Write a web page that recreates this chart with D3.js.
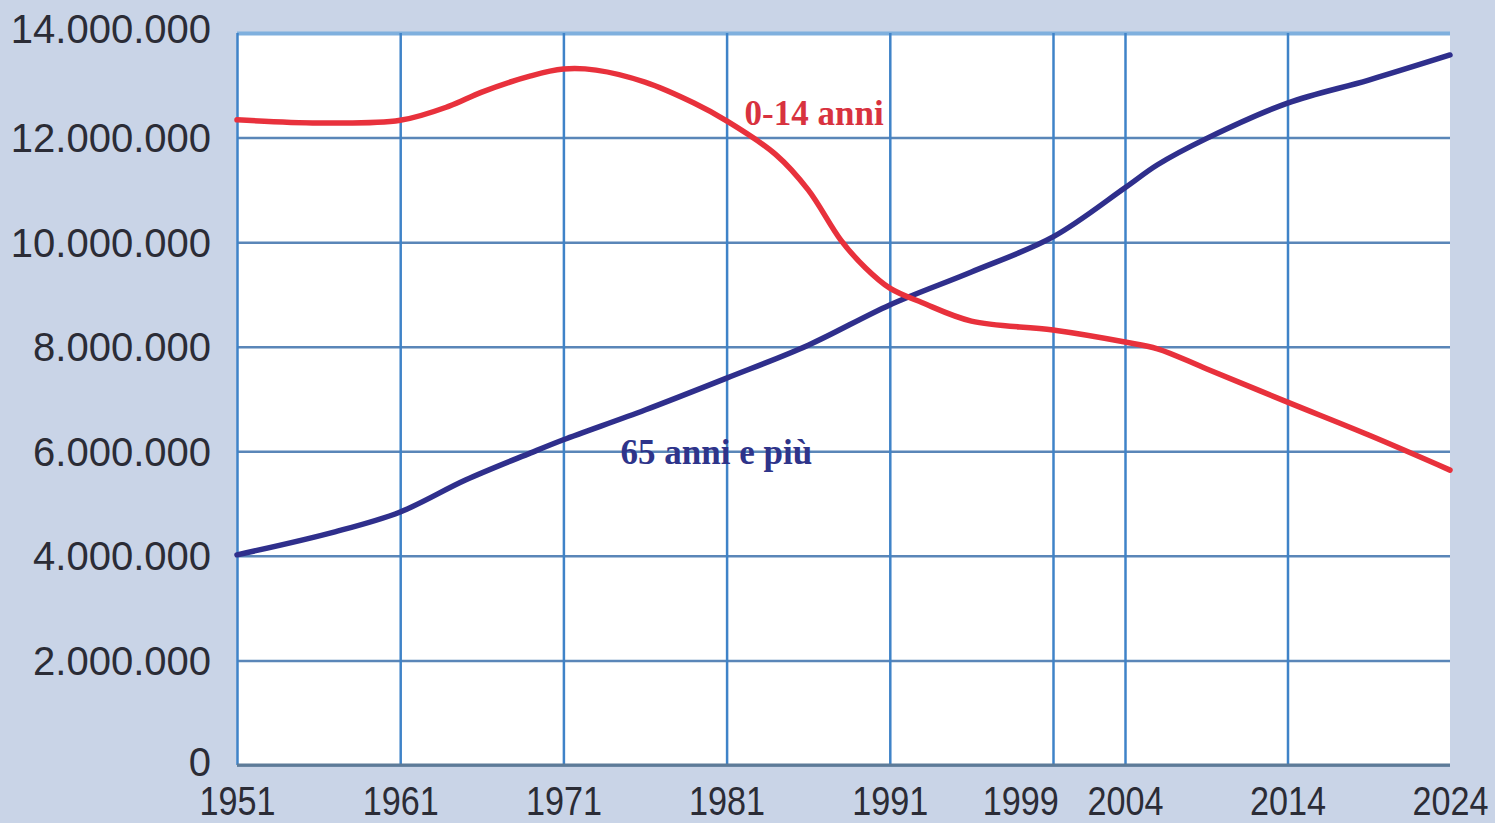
<!DOCTYPE html>
<html>
<head>
<meta charset="utf-8">
<script src="https://cdn.jsdelivr.net/npm/d3@7"></script>
<style>
  html, body { margin: 0; padding: 0; background: #c9d4e7; }
  svg { display: block; }
</style>
</head>
<body>
<svg id="chart" width="1495" height="823"></svg>
<script>
// ---- data ----
const years014 = [1951, 1956, 1961, 1964, 1966, 1969, 1971, 1973, 1976, 1979, 1981, 1984, 1986, 1988, 1989.5, 1991, 1993, 1996, 2001, 2004, 2006, 2009, 2014, 2019, 2024];
const values014 = [12.34e6, 12.28e6, 12.33e6, 12.60e6, 12.87e6, 13.18e6, 13.31e6, 13.29e6, 13.06e6, 12.66e6, 12.32e6, 11.68e6, 11.00e6, 10.04e6, 9.51e6, 9.12e6, 8.84e6, 8.49e6, 8.32e6, 8.09e6, 7.96e6, 7.58e6, 6.94e6, 6.31e6, 5.64e6];

const years65 = [1951, 1957, 1961, 1965, 1969, 1971, 1976, 1981, 1986, 1991, 1996, 2001, 2004, 2006, 2009, 2014, 2019, 2024];
const values65 = [4.02e6, 4.46e6, 4.84e6, 5.45e6, 5.97e6, 6.22e6, 6.79e6, 7.40e6, 8.03e6, 8.80e6, 9.43e6, 10.10e6, 11.04e6, 11.48e6, 11.98e6, 12.66e6, 13.10e6, 13.58e6];

const gridYears = [1951, 1961, 1971, 1981, 1991, 2001, 2004, 2014, 2024];
const xTickLabels = [1951, 1961, 1971, 1981, 1991, 1999, 2004, 2014, 2024];
const yTicks = [0, 2e6, 4e6, 6e6, 8e6, 10e6, 12e6, 14e6];

const seriesNames = ["0-14 anni", "65 anni e più"];
const labelYears = [1982.1, 1974.5];
const labelValues = [12.24e6, 5.76e6];

// ---- layout ----
const pLeft = 237, pRight = 1450, pTop = 33, pBottom = 765;
const svg = d3.select("#chart");
svg.append("rect").attr("width", 1495).attr("height", 823).attr("fill", "#c9d4e7");

const x = d3.scaleLinear().domain([1951, 2001, 2004, 2024]).range([pLeft, 1053, 1125, pRight]);
const y = d3.scaleLinear().domain([0, 14e6]).range([pBottom, pTop]);

const loc = d3.formatLocale({ decimal: ",", thousands: ".", grouping: [3], currency: ["", ""] });
const fmt = loc.format(",");

// plot background
svg.append("rect").attr("x", pLeft).attr("y", pTop).attr("width", pRight - pLeft).attr("height", pBottom - pTop).attr("fill", "#ffffff");

// horizontal grid
const gy = svg.append("g").attr("transform", `translate(${pLeft},0)`)
  .call(d3.axisLeft(y).tickValues(yTicks).tickSize(-(pRight - pLeft)).tickFormat(""));
gy.select(".domain").remove();
gy.selectAll(".tick line")
  .attr("stroke", d => d === 14e6 ? "#7fb0de" : (d === 0 ? "#5d7b98" : "#5a86b8"))
  .attr("stroke-width", d => d === 14e6 ? 4 : 2.5);

// vertical grid
const gx = svg.append("g").attr("transform", `translate(0,${pBottom})`)
  .call(d3.axisBottom(x).tickValues(gridYears).tickSize(-(pBottom - pTop)).tickFormat(""));
gx.select(".domain").remove();
gx.selectAll(".tick line")
  .attr("stroke", d => d === 2024 ? "none" : "#3f83c8")
  .attr("stroke-width", 2.5);

// bottom axis line
svg.append("line").attr("x1", pLeft).attr("x2", pRight).attr("y1", y(0)).attr("y2", y(0))
  .attr("stroke", "#5d7b98").attr("stroke-width", 3);

// y labels
const yl = svg.append("g").attr("transform", `translate(211,0)`)
  .call(d3.axisLeft(y).tickValues(yTicks).tickSize(0).tickPadding(0).tickFormat(fmt));
yl.select(".domain").remove();
yl.selectAll("text")
  .attr("font-family", "'Liberation Sans', Arial, sans-serif")
  .attr("font-size", 40).attr("fill", "#2b2c36")
  .attr("dy", "0.35em")
  .attr("y", d => d === 14e6 ? -5 : (d === 0 ? -4 : 0));

// x labels
const xl = svg.append("g").attr("transform", `translate(0,${pBottom})`)
  .call(d3.axisBottom(x).tickValues(xTickLabels).tickSize(0).tickPadding(0).tickFormat(d3.format("d")));
xl.select(".domain").remove();
xl.selectAll("text")
  .attr("font-family", "'Liberation Sans', Arial, sans-serif")
  .attr("font-size", 40).attr("fill", "#2b2c36")
  .attr("textLength", 76).attr("lengthAdjust", "spacingAndGlyphs")
  .attr("text-anchor", d => d === 2024 ? "end" : "middle")
  .attr("x", d => d === 2024 ? 38 : 0)
  .attr("dy", null).attr("y", 50);

// lines
const line = d3.line().x(d => x(d[0])).y(d => y(d[1])).curve(d3.curveCatmullRom.alpha(0.5));
const data014 = years014.map((yr, i) => [yr, values014[i]]);
const data65 = years65.map((yr, i) => [yr, values65[i]]);

svg.append("path").datum(data65).attr("d", line).attr("fill", "none")
  .attr("stroke", "#2f2f8c").attr("stroke-width", 5.5).attr("stroke-linecap", "round");
svg.append("path").datum(data014).attr("d", line).attr("fill", "none")
  .attr("stroke", "#e8313c").attr("stroke-width", 5.5).attr("stroke-linecap", "round");

// series labels
const labelColors = ["#d8323f", "#2e348a"];
svg.selectAll(".slabel").data(seriesNames).enter().append("text")
  .attr("class", "slabel")
  .attr("x", (d, i) => x(labelYears[i]))
  .attr("y", (d, i) => y(labelValues[i]))
  .attr("font-family", "'Liberation Serif', 'Times New Roman', serif")
  .attr("font-weight", "bold").attr("font-size", 35)
  .attr("fill", (d, i) => labelColors[i])
  .text(d => d);
</script>
</body>
</html>
